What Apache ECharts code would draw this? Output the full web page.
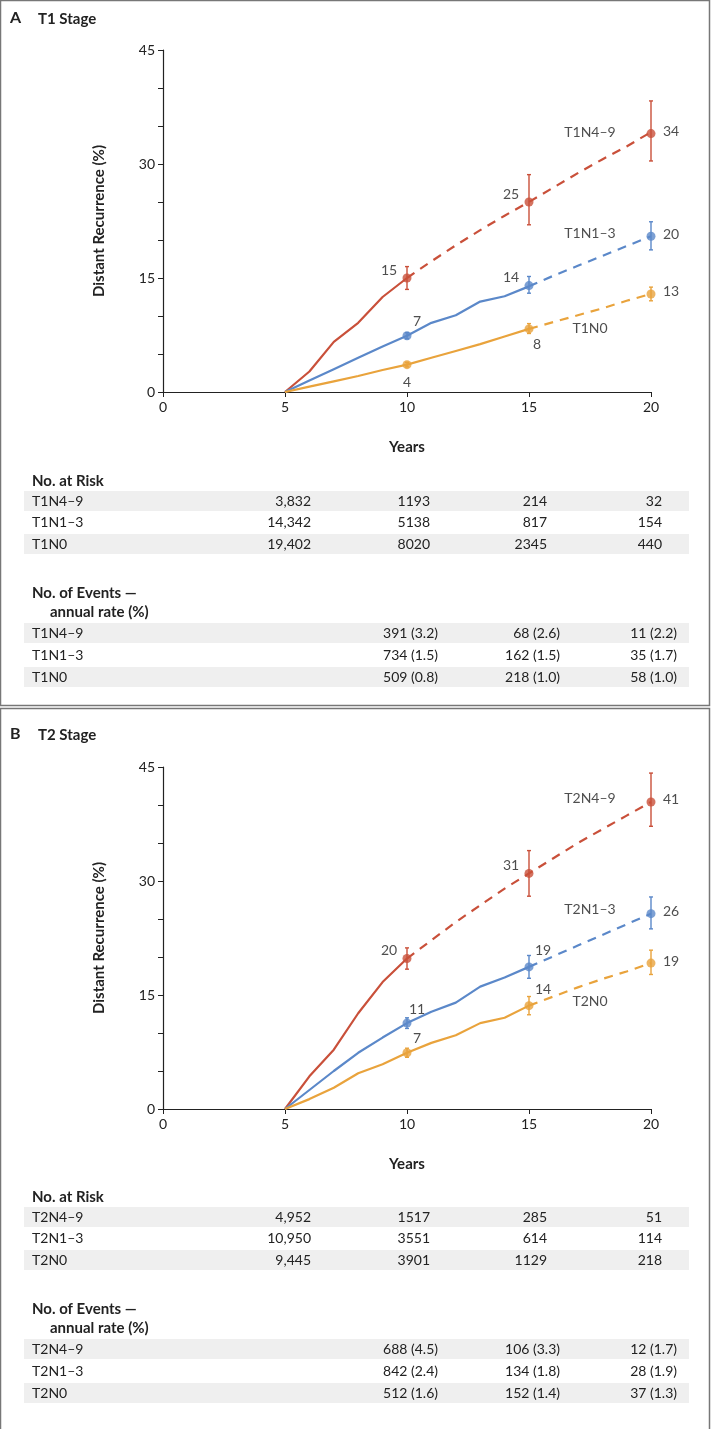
<!DOCTYPE html>
<html><head><meta charset="utf-8">
<script src="https://cdn.jsdelivr.net/npm/echarts@6/dist/echarts.min.js"></script>
<style>body{margin:0;background:#fff}#c{width:712px;height:1429px}</style>
</head><body><div id="c"></div>
<script>
const years = [5, 6, 7, 8, 9, 10, 11, 12, 13, 14, 15, 16, 17, 18, 19, 20]
const colors = ['#c9503a', '#5b88c9', '#e9a33c']

// panel A (T1) — values per year 5..20, solid to 10 or 15 then dashed
const a_n49 = [0, 2.7, 6.6, 9.1, 12.5, 15, 17.2, 19.3, 21.3, 23.2, 25, 26.9, 28.8, 30.6, 32.3, 34.2]
const a_n13 = [0, 1.5, 3, 4.5, 6, 7.4, 9.1, 10.1, 11.9, 12.6, 13.9, 15.3, 16.6, 17.9, 19.2, 20.5]
const a_n0 = [0, 0.7, 1.4, 2.1, 2.9, 3.6, 4.5, 5.4, 6.3, 7.3, 8.3, 9.2, 10.1, 11, 12, 12.9]
// panel B (T2)
const b_n49 = [0, 4.3, 7.8, 12.6, 16.7, 19.8, 22.2, 24.6, 26.8, 29, 31, 33, 35, 36.8, 38.6, 40.4]
const b_n13 = [0, 2.5, 5, 7.4, 9.4, 11.3, 12.8, 14, 16.1, 17.3, 18.7, 20.1, 21.5, 22.9, 24.3, 25.7]
const b_n0 = [0, 1.3, 2.8, 4.7, 5.9, 7.4, 8.7, 9.7, 11.3, 12, 13.6, 14.8, 16, 17.1, 18.1, 19.2]
const solidUntil = [10, 15, 15]

// error bars [year, low, high]
const a_err = [
  [[10, 13.5, 16.5], [15, 22, 28.6], [20, 30.4, 38.3]],
  [[10, 7, 7.8], [15, 13, 15.2], [20, 18.7, 22.4]],
  [[10, 3.3, 3.9], [15, 7.7, 9], [20, 12, 13.8]]
]
const b_err = [
  [[10, 18.4, 21.2], [15, 28, 34], [20, 37.2, 44.2]],
  [[10, 10.6, 12], [15, 17.2, 20.2], [20, 23.7, 27.9]],
  [[10, 6.8, 8], [15, 12.4, 14.8], [20, 17.7, 20.9]]
]
// point value labels [year, value, text, dx, dy]
const a_vals = [
  [[10, 15, '15', -18, -8], [15, 25, '25', -18, -8], [20, 34, '34', 20, -2]],
  [[10, 7.4, '7', 10, -14], [15, 14, '14', -18, -8], [20, 20.5, '20', 20, -2]],
  [[10, 3.6, '4', 0, 18], [15, 8.3, '8', 8, 16], [20, 12.9, '13', 20, -2]]
]
const b_vals = [
  [[10, 19.8, '20', -18, -8], [15, 31, '31', -18, -8], [20, 40.4, '41', 20, -2]],
  [[10, 11.3, '11', 10, -14], [15, 18.7, '19', 14, -16], [20, 25.7, '26', 20, -2]],
  [[10, 7.4, '7', 10, -14], [15, 13.6, '14', 14, -16], [20, 19.2, '19', 20, -2]]
]
const a_names = [['T1N4\u20139', 17.5, 34.2], ['T1N1\u20133', 17.5, 20.8], ['T1N0', 17.5, 8.3]]
const b_names = [['T2N4\u20139', 17.5, 40.8], ['T2N1\u20133', 17.5, 26.3], ['T2N0', 17.5, 14.2]]

// tables
const a_rows = ['T1N4\u20139', 'T1N1\u20133', 'T1N0']
const b_rows = ['T2N4\u20139', 'T2N1\u20133', 'T2N0']
const a_risk = [['3,832', '1193', '214', '32'], ['14,342', '5138', '817', '154'], ['19,402', '8020', '2345', '440']]
const b_risk = [['4,952', '1517', '285', '51'], ['10,950', '3551', '614', '114'], ['9,445', '3901', '1129', '218']]
const a_events = [['391 (3.2)', '68 (2.6)', '11 (2.2)'], ['734 (1.5)', '162 (1.5)', '35 (1.7)'], ['509 (0.8)', '218 (1.0)', '58 (1.0)']]
const b_events = [['688 (4.5)', '106 (3.3)', '12 (1.7)'], ['842 (2.4)', '134 (1.8)', '28 (1.9)'], ['512 (1.6)', '152 (1.4)', '37 (1.3)']]

const FONT = 'Lato'
const chart = echarts.init(document.getElementById('c'))
const grids = [
  { left: 163, top: 50, width: 488, height: 342 },
  { left: 163, top: 767, width: 488, height: 342 }
]

function axes(i) {
  const x = {
    type: 'value', gridIndex: i, min: 0, max: 20, interval: 5,
    name: 'Years', nameLocation: 'middle', nameGap: 48,
    nameTextStyle: { fontFamily: FONT, fontWeight: 'bold', fontSize: 15, color: '#222' },
    axisLine: { lineStyle: { color: '#222', width: 1.2 } },
    axisTick: { length: 5, lineStyle: { color: '#222' } },
    axisLabel: { fontFamily: FONT, fontSize: 14, color: '#222', margin: 8 },
    splitLine: { show: false }
  }
  const y = {
    type: 'value', gridIndex: i, min: 0, max: 45, interval: 15,
    name: 'Distant Recurrence (%)', nameLocation: 'middle', nameGap: 56,
    nameTextStyle: { fontFamily: FONT, fontWeight: 'bold', fontSize: 15, color: '#222' },
    axisLine: { show: true, lineStyle: { color: '#222', width: 1.2 } },
    axisTick: { length: 5, lineStyle: { color: '#222' } },
    minorTick: { show: true, splitNumber: 3, length: 5, lineStyle: { color: '#222' } },
    axisLabel: { fontFamily: FONT, fontSize: 14, color: '#222', margin: 8 },
    splitLine: { show: false }
  }
  return [x, y]
}

const series = []
function addPanel(i, sets, errs, vals, names) {
  sets.forEach((vs, k) => {
    const pts = years.map((yr, j) => [yr, vs[j]])
    const cut = solidUntil[k]
    series.push({
      type: 'line', xAxisIndex: i, yAxisIndex: i, showSymbol: false, silent: true,
      data: pts.filter(p => p[0] <= cut), lineStyle: { color: colors[k], width: 2.2 }, z: 3
    })
    series.push({
      type: 'line', xAxisIndex: i, yAxisIndex: i, showSymbol: false, silent: true,
      data: pts.filter(p => p[0] >= cut), lineStyle: { color: colors[k], width: 2.2, type: [9, 7] }, z: 3
    })
    series.push({
      type: 'custom', xAxisIndex: i, yAxisIndex: i, silent: true, z: 4,
      data: errs[k],
      renderItem: function (params, api) {
        const lo = api.coord([api.value(0), api.value(1)])
        const hi = api.coord([api.value(0), api.value(2)])
        const st = { stroke: colors[k], lineWidth: 1.4 }
        return {
          type: 'group', children: [
            { type: 'line', shape: { x1: lo[0], y1: lo[1], x2: hi[0], y2: hi[1] }, style: st },
            { type: 'line', shape: { x1: lo[0] - 2, y1: lo[1], x2: lo[0] + 2, y2: lo[1] }, style: st },
            { type: 'line', shape: { x1: hi[0] - 2, y1: hi[1], x2: hi[0] + 2, y2: hi[1] }, style: st }
          ]
        }
      }
    })
    series.push({
      type: 'scatter', xAxisIndex: i, yAxisIndex: i, silent: true, z: 5,
      symbolSize: 9, itemStyle: { color: colors[k] },
      data: vals[k].map(v => ({
        value: [v[0], v[1]],
        label: { show: true, formatter: v[2], offset: [v[3], v[4]], position: 'inside',
          fontFamily: FONT, fontSize: 14, color: '#222' }
      }))
    })
  })
  series.push({
    type: 'scatter', xAxisIndex: i, yAxisIndex: i, silent: true, symbolSize: 0,
    data: names.map(n => ({ value: [n[1], n[2]],
      label: { show: true, formatter: n[0], position: 'inside', fontFamily: FONT, fontSize: 14, color: '#222' } }))
  })
}
addPanel(0, [a_n49, a_n13, a_n0], a_err, a_vals, a_names)
addPanel(1, [b_n49, b_n13, b_n0], b_err, b_vals, b_names)

const ax0 = axes(0), ax1 = axes(1)

// tables as graphic text
const g = []
const txt = (x, y, s, opt) => g.push(Object.assign({ type: 'text', x: x, y: y,
  style: Object.assign({ text: s, fontFamily: FONT, fontSize: 14, fill: '#222', verticalAlign: 'middle' }, opt || {}) }))
const band = (y) => g.push({ type: 'rect', shape: { x: 24, y: y - 10, width: 665, height: 20 }, style: { fill: '#efefef' }, z: -1 })

function tables(off, boxTop, boxH, title, rows, risk, events) {
  g.push({ type: 'rect', shape: { x: 0.5, y: boxTop + 0.5, width: 709, height: boxH }, style: { fill: null, stroke: '#777', lineWidth: 1.5 } })
  txt(10, off + 18, title[0], { fontWeight: 'bold', fontSize: 16 })
  txt(38, off + 19, title[1], { fontWeight: 'bold', fontSize: 15 })
  txt(32, off + 481, 'No. at Risk', { fontWeight: 'bold', fontSize: 15 })
  const riskX = [311, 430, 547, 662]
  rows.forEach((r, k) => {
    const y = off + 501 + k * 21.5
    if (k !== 1) band(y)
    txt(32, y, r)
    risk[k].forEach((v, c) => txt(riskX[c], y, v, { align: 'right' }))
  })
  txt(32, off + 593, 'No. of Events \u2014', { fontWeight: 'bold', fontSize: 15 })
  txt(50, off + 612, 'annual rate (%)', { fontWeight: 'bold', fontSize: 15 })
  const evX = [438, 560, 677]
  rows.forEach((r, k) => {
    const y = off + 633 + k * 22
    if (k !== 1) band(y)
    txt(32, y, r)
    events[k].forEach((v, c) => txt(evX[c], y, v, { align: 'right' }))
  })
}
tables(0, 0, 705, ['A', 'T1 Stage'], a_rows, a_risk, a_events)
tables(716, 708, 730, ['B', 'T2 Stage'], b_rows, b_risk, b_events)

chart.setOption({
  animation: false,
  grid: grids,
  xAxis: [ax0[0], ax1[0]],
  yAxis: [ax0[1], ax1[1]],
  series: series,
  graphic: g
})
</script></body></html>
